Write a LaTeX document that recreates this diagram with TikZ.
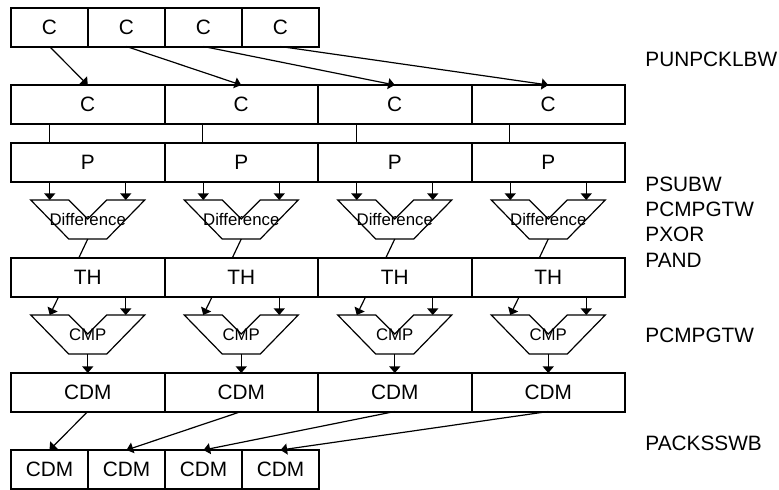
\documentclass[tikz,border=0pt]{standalone}
\usepackage{fontspec}
\setmainfont{Liberation Sans}
\usetikzlibrary{arrows.meta, positioning, matrix}

\begin{document}
\begin{tikzpicture}[x=0.5pt, y=-0.5pt,
    regbox/.style={draw, line width=1pt, minimum height=19.25pt, inner sep=0pt, outer sep=0pt, font=\fontsize{10.4}{12}\selectfont},
    narrowbox/.style={regbox, minimum width=38.5pt},
    widebox/.style={regbox, minimum width=76.75pt},
    alubox/.style={minimum width=57pt, minimum height=19.5pt, inner sep=0pt, outer sep=0pt, font=\fontsize{8.4}{10}\selectfont},
    wire/.style={line width=0.6pt},
    flow/.style={wire, -{Triangle[length=3.3pt, width=5.5pt]}},
    instr/.style={anchor=west, align=left, inner sep=0pt, font=\fontsize{10.4}{12.65}\selectfont},
    ]
    \useasboundingbox (0,0) rectangle (779,489);

    % packed bytes on top
    \matrix[matrix of nodes, nodes={narrowbox}, column sep=-1pt, ampersand replacement=\&,
            anchor=north west, inner sep=0pt, outer sep=0pt] (inrow) at (10,7) {
        |(in1)| C \& |(in2)| C \& |(in3)| C \& |(in4)| C \\
    };

    % unpacked words
    \matrix[matrix of nodes, nodes={widebox}, column sep=-1pt, ampersand replacement=\&,
            anchor=north west, inner sep=0pt, outer sep=0pt] (crow) at (10,84) {
        |(c1)| C \& |(c2)| C \& |(c3)| C \& |(c4)| C \\
    };
    \matrix[matrix of nodes, nodes={widebox}, column sep=-1pt, ampersand replacement=\&,
            anchor=north west, inner sep=0pt, outer sep=0pt] (prow) at (10,142) {
        |(p1)| P \& |(p2)| P \& |(p3)| P \& |(p4)| P \\
    };

    % threshold and result rows
    \matrix[matrix of nodes, nodes={widebox}, column sep=-1pt, ampersand replacement=\&,
            anchor=north west, inner sep=0pt, outer sep=0pt] (throw) at (10,257) {
        |(th1)| TH \& |(th2)| TH \& |(th3)| TH \& |(th4)| TH \\
    };
    \matrix[matrix of nodes, nodes={widebox}, column sep=-1pt, ampersand replacement=\&,
            anchor=north west, inner sep=0pt, outer sep=0pt] (cdmrow) at (10,372) {
        |(cdm1)| CDM \& |(cdm2)| CDM \& |(cdm3)| CDM \& |(cdm4)| CDM \\
    };

    % packed result
    \matrix[matrix of nodes, nodes={narrowbox}, column sep=-1pt, ampersand replacement=\&,
            anchor=north west, inner sep=0pt, outer sep=0pt] (outrow) at (10,449) {
        |(out1)| CDM \& |(out2)| CDM \& |(out3)| CDM \& |(out4)| CDM \\
    };

    % ALU units per lane
    \foreach \i in {1,...,4} {
        \node[alubox] (diff\i) at ({11+(\i-0.5)*153.5}, 219.5) {Difference};
        \node[alubox] (cmp\i) at ({11+(\i-0.5)*153.5}, 334.5) {CMP};
        \foreach \u in {diff\i, cmp\i}
            \draw[wire] (\u.north west) -- ++(19pt,0) -- ++(9.5pt,-9.5pt) -- ++(9.5pt,9.5pt)
                -- ++(19pt,0) -- ++(-19pt,-19.5pt) -- ++(-19pt,0) -- cycle;

        % lane connections
        \draw[flow] (in\i.south) -- (c\i.north);
        \draw[wire] ([xshift=-19.25pt]c\i.south) -- ([xshift=-19.25pt]p\i.north);
        \draw[flow] ([xshift=-19pt]p\i.south) -- ([xshift=-19pt]diff\i.north);
        \draw[flow] ([xshift=19pt]p\i.south) -- ([xshift=19pt]diff\i.north);
        \draw[wire] (diff\i.south) -- ([xshift=-4.5pt]th\i.north);
        \draw[flow] ([xshift=-14.5pt]th\i.south) -- ([xshift=-19pt]cmp\i.north);
        \draw[flow] ([xshift=19pt]th\i.south) -- ([xshift=19pt]cmp\i.north);
        \draw[flow] (cmp\i.south) -- (cdm\i.north);
        \draw[flow] (cdm\i.south) -- (out\i.north);
    }

    % instruction names
    \node[instr] (unpack) at (645,59) {PUNPCKLBW};
    \node[instr] (thresh) at (645,222) {PSUBW\\PCMPGTW\\PXOR\\PAND};
    \node[instr] (compare) at (645,335) {PCMPGTW};
    \node[instr] (pack) at (645,443) {PACKSSWB};
\end{tikzpicture}
\end{document}
